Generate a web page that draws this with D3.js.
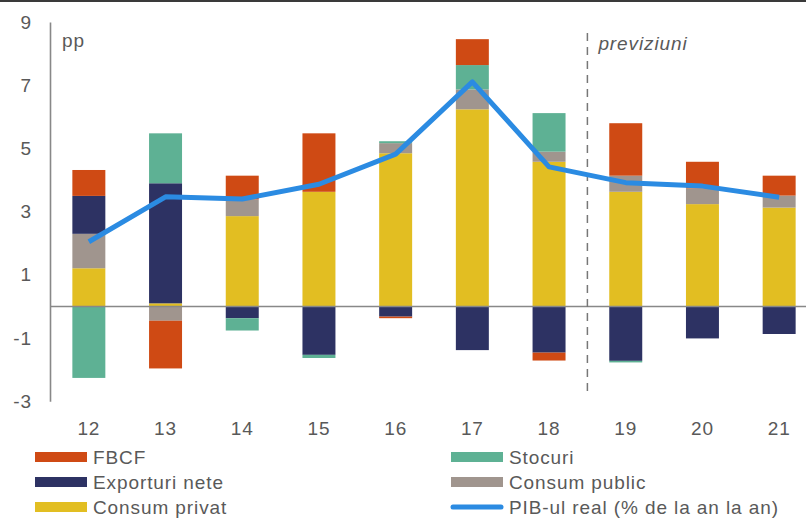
<!DOCTYPE html>
<html>
<head>
<meta charset="utf-8">
<script src="https://cdn.jsdelivr.net/npm/d3@7"></script>
<style>
  body { margin: 0; background: #fff; }
  svg { display: block; }
  text { font-family: "Liberation Sans", Arial, sans-serif; fill: #595959; }
</style>
</head>
<body>
<div id="chart"></div>
<script>
// data (pp contributions)
var years = ["12", "13", "14", "15", "16", "17", "18", "19", "20", "21"];
var consumPrivat  = [1.21, 0.10, 2.86, 3.63, 4.85, 6.24, 4.58, 3.63, 3.24, 3.13];
var consumPublic  = [1.09, -0.45, 0.53, 0.00, 0.32, 0.63, 0.32, 0.51, 0.50, 0.38];
var exporturiNete = [1.20, 3.80, -0.37, -1.53, -0.32, -1.38, -1.46, -1.72, -1.01, -0.87];
var stocuri       = [-2.26, 1.58, -0.39, -0.10, 0.06, 0.77, 1.22, -0.05, 0.00, 0.00];
var fbcf          = [0.82, -1.51, 0.75, 1.85, -0.05, 0.82, -0.25, 1.66, 0.84, 0.63];
var pibReal       = [2.05, 3.47, 3.40, 3.87, 4.82, 7.11, 4.42, 3.92, 3.81, 3.46];
var yTicks = [-3, -1, 1, 3, 5, 7, 9];

var keys = ["privat", "public", "export", "stocuri", "fbcf"];
var colors = {
  fbcf: "#cf4a14",
  stocuri: "#5eb194",
  export: "#2d3263",
  public: "#a0958e",
  privat: "#e2be22",
  pib: "#2b8be2"
};

var width = 806, height = 518;

var rows = years.map(function(d, i) {
  return {year: d, privat: consumPrivat[i], public: consumPublic[i],
          export: exporturiNete[i], stocuri: stocuri[i], fbcf: fbcf[i]};
});

var series = d3.stack()
    .keys(keys)
    .offset(d3.stackOffsetDiverging)(rows);

var x = d3.scaleBand()
    .domain(years)
    .range([50.5, 817.5])
    .paddingInner(0.57)
    .paddingOuter(0.285);

var y = d3.scaleLinear()
    .domain([-3, 9])
    .range([401.3, 22.1]);

var svg = d3.select("#chart").append("svg")
    .attr("width", width)
    .attr("height", height);

// top border
svg.append("rect")
    .attr("x", 0).attr("y", 0)
    .attr("width", width).attr("height", 2)
    .attr("fill", "#3a3a3a");

// bars
svg.selectAll(".layer")
    .data(series)
  .enter().append("g")
    .attr("class", "layer")
    .attr("fill", function(d) { return colors[d.key]; })
  .selectAll("rect")
    .data(function(d) { return d; })
  .enter().append("rect")
    .attr("x", function(d) { return x(d.data.year); })
    .attr("width", x.bandwidth())
    .attr("y", function(d) { return y(Math.max(d[0], d[1])); })
    .attr("height", function(d) { return Math.abs(y(d[0]) - y(d[1])); });

// zero line
svg.append("line")
    .attr("x1", 50).attr("x2", width)
    .attr("y1", y(0)).attr("y2", y(0))
    .attr("stroke", "#888").attr("stroke-width", 1.6);

// y axis
var yAxis = svg.append("g")
    .attr("transform", "translate(50,0)")
    .call(d3.axisLeft(y).tickValues(yTicks).tickSize(0).tickPadding(18)
      .tickFormat(function(d) { return String(d); }));
yAxis.select(".domain")
    .attr("stroke", "#888").attr("stroke-width", 1.6);
yAxis.selectAll("text")
    .style("font-size", "19px")
    .style("letter-spacing", "0.9px")
    .attr("fill", "#595959");

// x axis (labels only)
var xAxis = svg.append("g")
    .attr("transform", "translate(0," + y(-3) + ")")
    .call(d3.axisBottom(x).tickSize(0).tickPadding(20));
xAxis.select(".domain").remove();
xAxis.selectAll("text")
    .style("font-size", "19px")
    .style("letter-spacing", "0.9px")
    .attr("fill", "#595959");

// forecast separator
var sepX = (x("18") + x("19") + x.bandwidth()) / 2;
svg.append("line")
    .attr("x1", sepX).attr("x2", sepX)
    .attr("y1", 33).attr("y2", 395)
    .attr("stroke", "#777").attr("stroke-width", 1.5)
    .attr("stroke-dasharray", "8,6");

svg.append("text")
    .attr("x", sepX + 11).attr("y", 50)
    .style("font-size", "19px")
    .style("font-style", "italic")
    .style("letter-spacing", "0.9px")
    .text("previziuni");

svg.append("text")
    .attr("x", 62).attr("y", 47)
    .style("font-size", "19px")
    .style("letter-spacing", "0.9px")
    .text("pp");

// GDP line
var line = d3.line()
    .x(function(d, i) { return x(years[i]) + x.bandwidth() / 2; })
    .y(function(d) { return y(d); });

svg.append("path")
    .datum(pibReal)
    .attr("fill", "none")
    .attr("stroke", colors.pib)
    .attr("stroke-width", 5)
    .attr("stroke-linejoin", "round")
    .attr("d", line);

// legend
var legendItems = [
  {label: "FBCF", key: "fbcf", col: 0, row: 0},
  {label: "Exporturi nete", key: "export", col: 0, row: 1},
  {label: "Consum privat", key: "privat", col: 0, row: 2},
  {label: "Stocuri", key: "stocuri", col: 1, row: 0},
  {label: "Consum public", key: "public", col: 1, row: 1},
  {label: "PIB-ul real (% de la an la an)", key: "pib", col: 1, row: 2}
];
var colX = [35, 451], rowY = [457, 482, 507];

var legend = svg.selectAll(".legend")
    .data(legendItems)
  .enter().append("g")
    .attr("class", "legend")
    .attr("transform", function(d) { return "translate(" + colX[d.col] + "," + rowY[d.row] + ")"; });

legend.each(function(d) {
  var g = d3.select(this);
  if (d.key === "pib") {
    g.append("line")
        .attr("x1", 2).attr("x2", 50)
        .attr("y1", 0).attr("y2", 0)
        .attr("stroke", colors.pib)
        .attr("stroke-width", 5)
        .attr("stroke-linecap", "round");
  } else {
    g.append("rect")
        .attr("x", 0).attr("y", -5)
        .attr("width", 52).attr("height", 10)
        .attr("fill", colors[d.key]);
  }
  g.append("text")
      .attr("x", 58).attr("y", 7)
      .style("font-size", "19px")
      .style("letter-spacing", "0.9px")
      .text(d.label);
});
</script>
</body>
</html>
